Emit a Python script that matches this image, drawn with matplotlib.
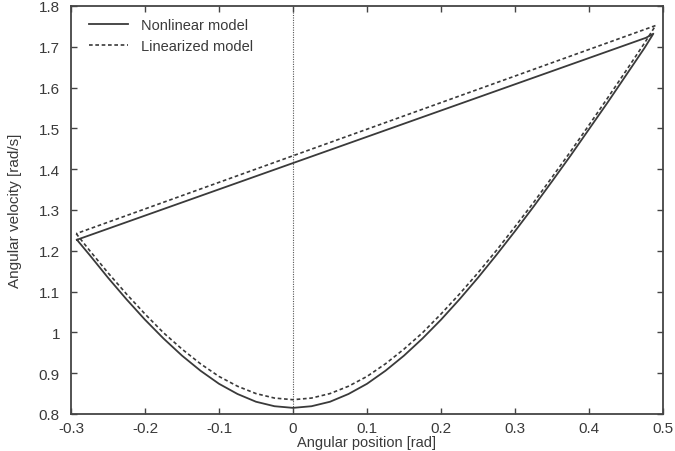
import matplotlib
matplotlib.use("Agg")
import matplotlib.pyplot as plt
import numpy as np

plt.rcParams['font.family'] = ['Liberation Sans', 'DejaVu Sans']

# nonlinear model: lower branch (left corner -> right tip), then straight line back
nl_x = [-0.292, -0.275, -0.25, -0.225, -0.2, -0.175, -0.15, -0.125, -0.1, -0.075,
        -0.05, -0.025, 0.0, 0.025, 0.05, 0.075, 0.1, 0.125, 0.15, 0.175, 0.2,
        0.225, 0.25, 0.275, 0.3, 0.325, 0.35, 0.375, 0.4, 0.425, 0.45, 0.475,
        0.487, 0.477, -0.292]
nl_y = [1.227, 1.190, 1.134, 1.081, 1.031, 0.985, 0.943, 0.906, 0.874, 0.849,
        0.830, 0.819, 0.815, 0.819, 0.830, 0.849, 0.874, 0.906, 0.943, 0.985, 1.031,
        1.081, 1.134, 1.190, 1.248, 1.308, 1.370, 1.433, 1.498, 1.563, 1.630, 1.697,
        1.732, 1.722, 1.227]

# linearized model
lin_x = [-0.293, -0.275, -0.25, -0.225, -0.2, -0.175, -0.15, -0.125, -0.1, -0.075,
         -0.05, -0.025, 0.0, 0.025, 0.05, 0.075, 0.1, 0.125, 0.15, 0.175, 0.2,
         0.225, 0.25, 0.275, 0.3, 0.325, 0.35, 0.375, 0.4, 0.425, 0.45, 0.475,
         0.49, -0.293]
lin_y = [1.242, 1.201, 1.146, 1.094, 1.045, 0.999, 0.959, 0.923, 0.892, 0.868,
         0.850, 0.839, 0.835, 0.839, 0.850, 0.868, 0.892, 0.923, 0.959, 0.999, 1.045,
         1.094, 1.146, 1.201, 1.259, 1.318, 1.380, 1.443, 1.508, 1.574, 1.641, 1.709,
         1.752, 1.242]

xticks = [-0.3, -0.2, -0.1, 0, 0.1, 0.2, 0.3, 0.4, 0.5]
xlabels = ['-0.3', '-0.2', '-0.1', '0', '0.1', '0.2', '0.3', '0.4', '0.5']
yticks = [0.8, 0.9, 1.0, 1.1, 1.2, 1.3, 1.4, 1.5, 1.6, 1.7, 1.8]
ylabels = ['0.8', '0.9', '1', '1.1', '1.2', '1.3', '1.4', '1.5', '1.6', '1.7', '1.8']

ink = '#3a3a3a'

fig = plt.figure(figsize=(6.75, 4.52), dpi=100)
ax = fig.add_axes([0.1052, 0.0819, 0.877, 0.9027])

ax.axvline(0, color='#555555', lw=0.8, ls=(0, (1, 1.2)), zorder=1)
ax.plot(nl_x, nl_y, color=ink, lw=1.3, label='Nonlinear model', zorder=3)
ax.plot(lin_x, lin_y, color=ink, lw=1.2, ls=(0, (2.2, 1.6)), label='Linearized model', zorder=2)

ax.set_xlim(-0.3, 0.5)
ax.set_ylim(0.8, 1.8)
ax.set_xticks(xticks)
ax.set_xticklabels(xlabels)
ax.set_yticks(yticks)
ax.set_yticklabels(ylabels)
ax.tick_params(direction='in', top=True, right=True, length=4.5, width=1.0,
               color='#444444', labelsize=11, labelcolor=ink)
ax.tick_params(axis='x', pad=5)
ax.tick_params(axis='y', pad=8)
for s in ax.spines.values():
    s.set_color('#444444')
    s.set_linewidth(1.3)

ax.set_xlabel('Angular position [rad]', fontsize=10.5, color=ink, labelpad=0)
ax.set_ylabel('Angular velocity [rad/s]', fontsize=11, color=ink, labelpad=12)

leg = ax.legend(loc='upper left', frameon=False, fontsize=10.5, handlelength=2.7,
                handletextpad=0.9, borderaxespad=0.0, labelspacing=0.5,
                bbox_to_anchor=(0.02, 0.985))
for t in leg.get_texts():
    t.set_color(ink)

plt.savefig('out.png', dpi=100)
